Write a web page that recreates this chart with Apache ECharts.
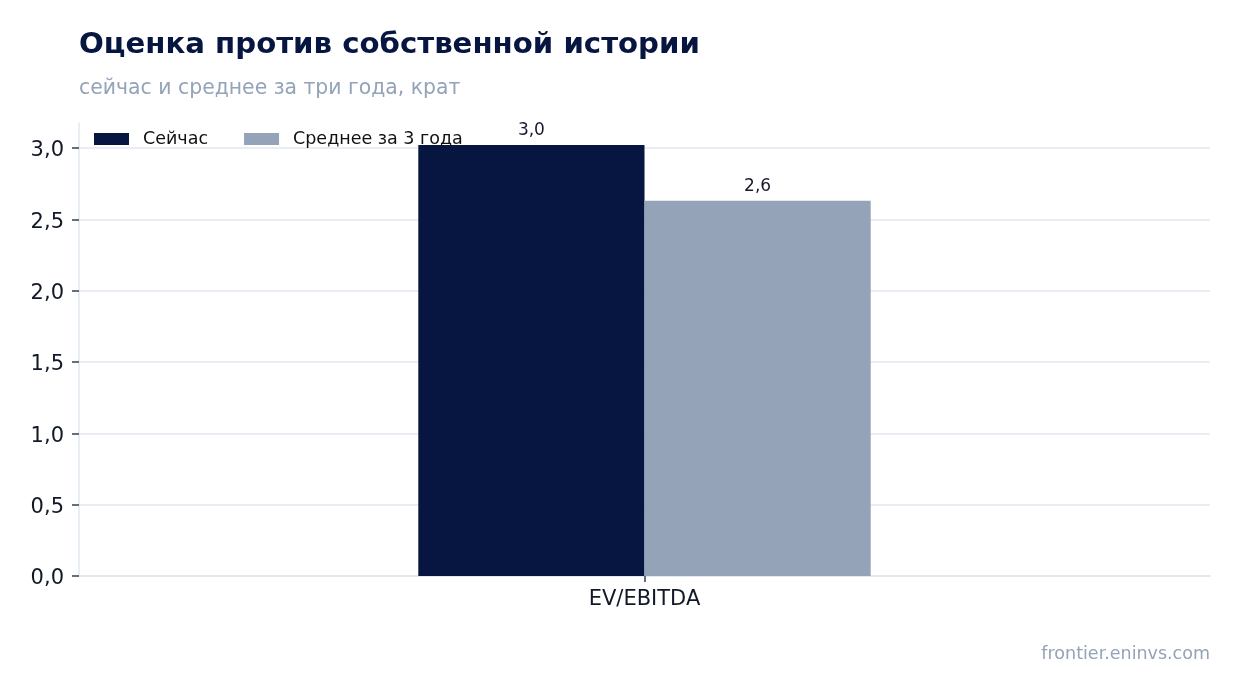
<!DOCTYPE html>
<html>
<head>
<meta charset="utf-8">
<script src="https://cdn.jsdelivr.net/npm/echarts@6/dist/echarts.min.js"></script>
<style>
  html, body { margin: 0; padding: 0; background: #fff; }
  #chart { width: 1241px; height: 693px; }
</style>
</head>
<body>
<div id="chart"></div>
<script>
var categories = ['EV/EBITDA'];
var seriesNames = ['Сейчас', 'Среднее за 3 года'];
var nowValues = [3.02];
var avgValues = [2.63];

var font = 'DejaVu Sans, sans-serif';
var fmt = function (v) { return v.toFixed(1).replace('.', ','); };

var chart = echarts.init(document.getElementById('chart'));
chart.setOption({
    animation: false,
    textStyle: { fontFamily: font },
    title: [{
        text: 'Оценка против собственной истории',
        left: 74, top: 26,
        textStyle: { fontSize: 29.2, fontWeight: 'bold', color: '#061640', fontFamily: font }
    }, {
        text: 'сейчас и среднее за три года, крат',
        left: 74, top: 74,
        textStyle: { fontSize: 20.4, fontWeight: 'normal', color: '#94a3b8', fontFamily: font }
    }, {
        text: 'frontier.eninvs.com',
        right: 26, top: 640,
        textStyle: { fontSize: 17.5, fontWeight: 'normal', color: '#94a3b8', fontFamily: font }
    }],
    legend: {
        left: 89, top: 125,
        itemWidth: 35, itemHeight: 12, itemGap: 36,
        icon: 'rect',
        textStyle: { fontSize: 17.5, color: '#111', fontFamily: font, padding: [0, 0, 0, 9] },
        data: seriesNames
    },
    grid: { left: 79, right: 31, top: 123, bottom: 117 },
    xAxis: {
        type: 'category',
        data: categories,
        axisLine: { show: true, lineStyle: { color: '#e2e8f0', width: 1.5 } },
        axisTick: { show: true, alignWithLabel: true, length: 6, lineStyle: { color: '#334155', width: 1.5 } },
        axisLabel: { fontSize: 21, color: '#111827', margin: 13, fontFamily: font }
    },
    yAxis: {
        type: 'value',
        min: 0, max: 3.175, interval: 0.5,
        axisLine: { show: true, lineStyle: { color: '#e2e8f0', width: 1.5 } },
        axisTick: { show: true, length: 7, lineStyle: { color: '#334155', width: 1.5 } },
        axisLabel: {
            margin: 15, showMaxLabel: false,
            formatter: function (v) {
                return Math.abs(v / 0.5 - Math.round(v / 0.5)) < 1e-6 ? '{t|' + fmt(v) + '}' : '';
            },
            rich: {
                t: { fontSize: 21, color: '#111827', fontFamily: font, padding: [6, 0, 0, 0] }
            }
        },
        splitLine: { show: true, showMaxLine: false, lineStyle: { color: '#e2e8f0', width: 1.5 } }
    },
    series: [{
        name: seriesNames[0],
        type: 'bar',
        data: nowValues,
        barWidth: '20%',
        barGap: '0%',
        itemStyle: { color: '#061640' },
        label: { show: true, position: 'top', distance: 6, fontSize: 17, color: '#1a1a2e', formatter: function (p) { return fmt(p.value); } }
    }, {
        name: seriesNames[1],
        type: 'bar',
        data: avgValues,
        barWidth: '20%',
        itemStyle: { color: '#94a3b8' },
        label: { show: true, position: 'top', distance: 6, fontSize: 17, color: '#1a1a2e', formatter: function (p) { return fmt(p.value); } }
    }]
});
</script>
</body>
</html>
